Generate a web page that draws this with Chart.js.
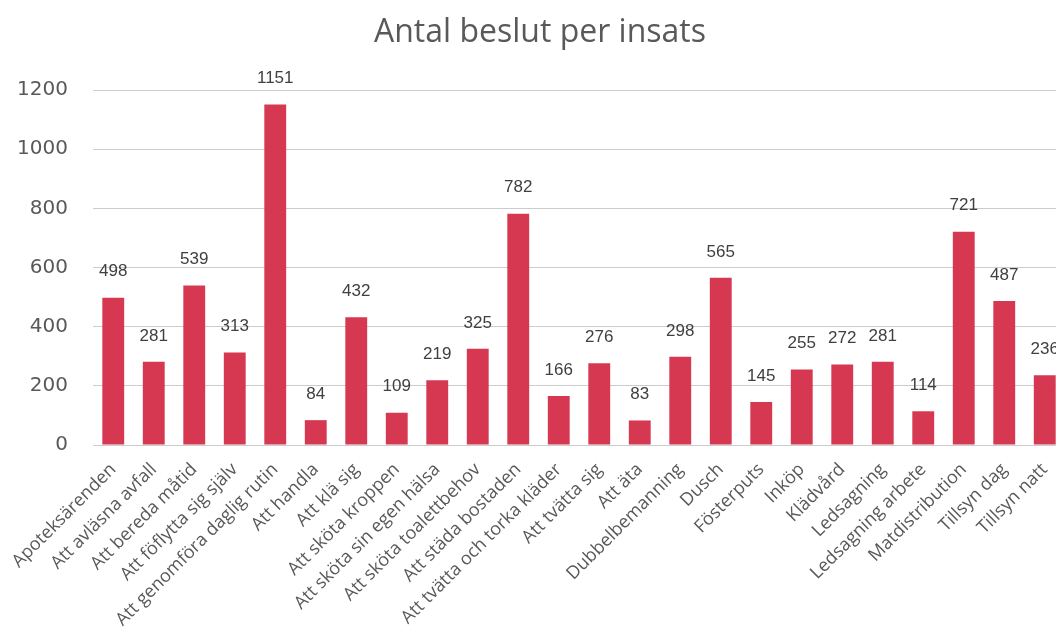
<!DOCTYPE html>
<html>
<head>
<meta charset="utf-8">
<script src="https://cdn.jsdelivr.net/npm/chart.js@4"></script>
<style>
  body { margin: 0; overflow: hidden; background: #fff; }
  #wrap { width: 1080px; height: 631px; }
</style>
</head>
<body>
<div id="wrap"><canvas id="chart" width="1080" height="631"></canvas></div>
<script>
// categories and values
const insatser = [
  "Apoteksärenden", "Att avläsna avfall", "Att bereda måtid", "Att föflytta sig själv",
  "Att genomföra daglig rutin", "Att handla", "Att klä sig", "Att sköta kroppen",
  "Att sköta sin egen hälsa", "Att sköta toalettbehov", "Att städa bostaden",
  "Att tvätta och torka kläder", "Att tvätta sig", "Att äta", "Dubbelbemanning",
  "Dusch", "Fösterputs", "Inköp", "Klädvård", "Ledsagning", "Ledsagning arbete",
  "Matdistribution", "Tillsyn dag", "Tillsyn natt"
];
const antalBeslut = [498, 281, 539, 313, 1151, 84, 432, 109, 219, 325, 782, 166,
  276, 83, 298, 565, 145, 255, 272, 281, 114, 721, 487, 236];
const yTicks = [0, 200, 400, 600, 800, 1000, 1200];

// draw the value above every bar
const valueLabels = {
  id: "valueLabels",
  afterDatasetsDraw(chart) {
    const ctx = chart.ctx;
    const meta = chart.getDatasetMeta(0);
    ctx.save();
    ctx.font = "17px 'Liberation Sans', Arial, sans-serif";
    ctx.fillStyle = "#404040";
    ctx.textAlign = "center";
    ctx.textBaseline = "middle";
    meta.data.forEach((bar, i) => {
      ctx.fillText(antalBeslut[i], bar.x, bar.y - 26);
    });
    ctx.restore();
  }
};

const ctx = document.getElementById("chart").getContext("2d");
new Chart(ctx, {
  type: "bar",
  data: {
    labels: insatser,
    datasets: [{
      data: antalBeslut,
      backgroundColor: "#D63852",
      barPercentage: 0.54,
      categoryPercentage: 1
    }]
  },
  options: {
    responsive: false,
    animation: false,
    layout: { padding: { left: 15, right: 15, top: 0, bottom: 0 } },
    plugins: {
      legend: { display: false },
      tooltip: { enabled: false },
      title: {
        display: true,
        text: "Antal beslut per insats",
        color: "#595959",
        font: { family: "'Open Sans', sans-serif", size: 32, weight: "normal" },
        padding: { top: 14, bottom: 37.6 }
      }
    },
    scales: {
      y: {
        min: 0,
        max: 1200,
        afterBuildTicks(scale) { scale.ticks = yTicks.map(v => ({ value: v })); },
        afterFit(scale) { scale.width = 78; },
        border: { display: false },
        grid: { color: "#cccccc", drawTicks: false },
        ticks: {
          padding: 25,
          color: "#595959",
          font: { family: "'DejaVu Sans', sans-serif", size: 20 },
          callback: v => String(v)
        }
      },
      x: {
        afterFit(scale) { scale.height = 186; },
        border: { display: true, color: "#cccccc" },
        grid: { display: false },
        ticks: {
          autoSkip: false,
          maxRotation: 45,
          minRotation: 45,
          padding: 6,
          color: "#595959",
          font: { family: "'Open Sans', sans-serif", size: 18 }
        }
      }
    }
  },
  plugins: [valueLabels]
});
</script>
</body>
</html>
